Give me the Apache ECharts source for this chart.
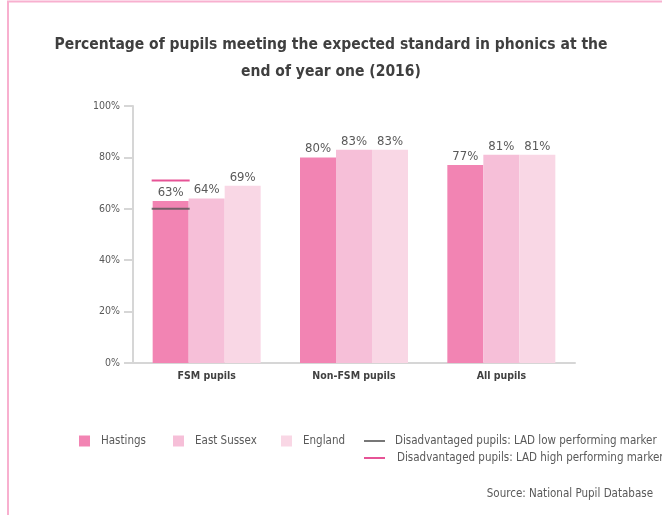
<!DOCTYPE html>
<html>
<head>
<meta charset="utf-8">
<script src="https://cdn.jsdelivr.net/npm/echarts@6/dist/echarts.min.js"></script>
<style>
  html, body { margin: 0; padding: 0; background: #fff; }
  #chart { width: 662px; height: 515px; }
</style>
</head>
<body>
<div id="chart"></div>
<script>
// data
var categories = ['FSM pupils', 'Non-FSM pupils', 'All pupils'];
var hastings = [63, 80, 77];
var eastSussex = [64, 83, 81];
var england = [69, 83, 81];
// LAD markers only shown for FSM pupils
var lowMarker = [['FSM pupils', 60]];
var highMarker = [['FSM pupils', 71]];
var yTicks = [0, 20, 40, 60, 80, 100];

var font = "'Liberation Sans Narrow', 'DejaVu Sans Condensed', 'Arial Narrow', sans-serif";
var grey = '#595959';
var barW = 36;

var chart = echarts.init(document.getElementById('chart'));

function barSeries(name, data, color) {
  return {
    name: name,
    type: 'bar',
    data: data,
    barWidth: barW,
    barGap: '0%',
    itemStyle: { color: color },
    label: {
      show: true,
      position: 'top',
      distance: 2,
      formatter: '{c}%',
      color: grey,
      fontFamily: font,
      fontSize: 13
    }
  };
}

function markerSeries(name, data, color) {
  return {
    name: name,
    type: 'scatter',
    data: data,
    symbol: 'rect',
    symbolSize: [38, 2],
    symbolOffset: [-barW, 0],   // sit on the Hastings bar
    itemStyle: { color: color },
    z: 5
  };
}

// one legend component per entry so each sits where the original puts it
function legendItem(name, left, top, w, h, gap) {
  return {
    data: [{ name: name, icon: 'rect' }],
    left: left,
    top: top,
    padding: 0,
    itemWidth: w,
    itemHeight: h,
    itemGap: 0,
    selectedMode: false,
    textStyle: { color: grey, fontFamily: font, fontSize: 11.5, padding: [0, 0, 0, gap] }
  };
}

chart.setOption({
  animation: false,
  title: [{
    text: 'Percentage of pupils meeting the expected standard in phonics at the\nend of year one (2016)',
    left: 331,
    textAlign: 'center',
    top: 31,
    padding: 0,
    textStyle: { color: '#3f3f3f', fontFamily: font, fontSize: 15.5, fontWeight: 'bold', lineHeight: 27 }
  }, {
    text: 'Source: National Pupil Database',
    right: 9,
    top: 488,
    padding: 0,
    textStyle: { color: grey, fontFamily: font, fontSize: 11.5, fontWeight: 'normal' }
  }],
  legend: [
    legendItem('Hastings', 79, 435, 11, 11, 6),
    legendItem('East Sussex', 173, 435, 11, 11, 6),
    legendItem('England', 281, 435, 11, 11, 6),
    legendItem('Disadvantaged pupils: LAD low performing marker', 364, 435, 21, 2, 5),
    legendItem('Disadvantaged pupils: LAD high performing marker', 364, 452, 21, 2, 7)
  ],
  grid: { left: 133, right: 87, top: 106, bottom: 152 },
  xAxis: {
    type: 'category',
    data: categories,
    axisLine: { lineStyle: { color: '#d6d6d6', width: 2 } },
    axisTick: { show: false },
    axisLabel: { color: '#404040', fontFamily: font, fontSize: 10.5, fontWeight: 'bold', margin: 8 }
  },
  yAxis: {
    type: 'value',
    min: yTicks[0],
    max: yTicks[yTicks.length - 1],
    interval: 20,
    axisLine: { show: true, lineStyle: { color: '#d6d6d6', width: 2 } },
    axisTick: { show: true, length: 9, lineStyle: { color: '#d6d6d6', width: 2 } },
    splitLine: { show: false },
    axisLabel: { color: grey, fontFamily: font, fontSize: 10.5, margin: 13, formatter: '{value}%' }
  },
  series: [
    barSeries('Hastings', hastings, '#f284b3'),
    barSeries('East Sussex', eastSussex, '#f6bfd8'),
    barSeries('England', england, '#f9d7e5'),
    markerSeries('Disadvantaged pupils: LAD low performing marker', lowMarker, '#555555'),
    markerSeries('Disadvantaged pupils: LAD high performing marker', highMarker, '#e0287c')
  ],
  graphic: [{
    type: 'polyline',
    silent: true,
    shape: { points: [[8, 515], [8, 1.5], [662, 1.5]] },
    style: { stroke: '#f8b0cf', lineWidth: 2, fill: null }
  }]
});
</script>
</body>
</html>
